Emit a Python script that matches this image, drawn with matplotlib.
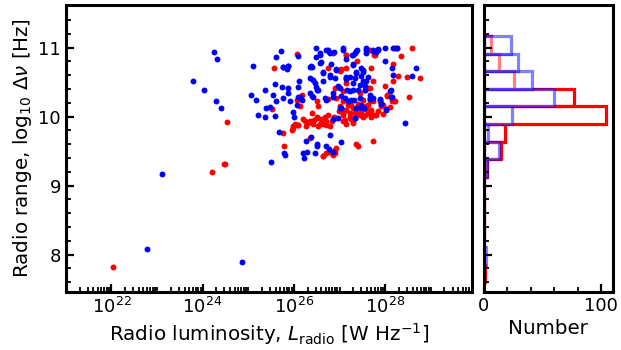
import numpy as np
import matplotlib
matplotlib.use("Agg")
import matplotlib.pyplot as plt
from matplotlib.ticker import FixedLocator, MultipleLocator, LogLocator, NullFormatter

# log10 L_radio and log10 dnu
blue_logL = [24.25, 24.32, 23.79, 24.02, 24.30, 24.41, 23.10, 22.77, 24.87,
             25.11, 25.05, 25.16, 25.71, 25.60, 25.36, 25.38, 25.21, 25.36, 25.58,
             25.58, 25.73, 25.54, 25.60, 25.47, 25.75, 25.87, 25.84, 25.87, 25.87,
             25.75, 25.91, 25.98, 26.00, 25.68, 25.78, 25.80, 25.49, 26.11, 26.09,
             26.13, 26.17, 26.07, 26.26, 26.28, 26.20, 26.22, 26.48, 26.35, 26.39,
             26.48, 26.57, 26.59, 26.41, 26.48, 26.35, 26.42, 26.53, 26.64, 26.71,
             26.82, 26.79, 26.64, 26.79, 26.92, 26.90, 26.97, 26.86, 26.71, 26.50,
             26.46, 26.51, 26.79, 26.71, 26.77, 26.85, 27.03, 26.85, 26.97, 27.08,
             27.15, 27.17, 27.12, 27.04, 27.27, 27.34, 27.39, 27.30, 27.23, 27.34,
             27.29, 27.41, 27.31, 27.37, 27.48, 27.52, 27.52, 27.56, 27.48, 27.52,
             27.34, 27.58, 27.59, 27.74, 27.85, 27.81, 27.63, 27.66, 27.74, 27.99,
             28.18, 28.25, 27.99, 28.16, 28.18, 28.13, 28.13, 27.92, 28.01, 28.58,
             28.67, 28.44, 26.37, 27.01,
             27.04, 27.19, 27.26, 27.37, 27.48, 27.53, 27.34, 27.66, 27.92, 28.02, 28.14,
             25.76, 25.86, 26.09, 26.57, 26.75, 26.88, 27.08, 26.37, 26.57, 26.64,
             26.79, 26.35, 26.46, 26.93, 26.09, 26.50, 26.39, 26.68, 26.86, 27.01, 27.15,
             27.30, 27.37, 27.59, 27.74, 27.85, 28.21, 27.15, 27.30, 27.37, 27.52,
             27.48, 27.59, 27.45, 27.30, 27.15, 27.23, 27.55, 27.66, 28.10, 27.88,
             27.45, 27.04]
blue_logdnu = [10.94, 10.84, 10.51, 10.38, 10.23, 10.13, 9.17, 8.08, 7.89,
               10.74, 10.31, 10.24, 10.95, 10.86, 10.38, 10.12, 10.02, 10.00, 10.01,
               10.48, 10.43, 10.31, 10.22, 10.14, 10.72, 10.74, 10.69, 10.41, 10.34,
               10.27, 10.22, 10.07, 10.00, 9.78, 9.47, 9.44, 9.35, 10.51, 10.43,
               10.29, 10.24, 10.17, 9.65, 9.49, 9.48, 9.40, 10.99, 10.72, 10.72,
               10.86, 10.92, 10.79, 10.53, 10.43, 10.35, 10.29, 10.39, 10.51, 10.97,
               10.77, 10.92, 10.65, 10.58, 10.69, 10.56, 10.44, 10.29, 10.24, 9.57,
               9.47, 9.61, 9.73, 9.57, 9.53, 9.49, 9.64, 9.97, 9.98, 10.99,
               10.58, 10.39, 10.27, 10.12, 10.89, 10.92, 10.96, 10.76, 10.58, 10.56,
               10.39, 10.39, 10.24, 10.65, 10.70, 10.65, 10.51, 10.44, 10.17, 10.12,
               9.98, 10.97, 10.92, 10.97, 10.98, 10.94, 10.58, 10.26, 10.27, 10.99,
               10.99, 10.99, 10.81, 10.70, 10.60, 10.39, 10.29, 10.20, 10.11, 10.59,
               10.70, 9.91, 9.70, 10.12,
               10.12, 10.22, 10.24, 10.12, 10.14, 10.12, 9.98, 10.27, 10.19, 10.10, 10.29,
               10.72, 10.73, 10.88, 10.90, 10.96, 10.94, 10.97, 10.73, 10.78, 10.63,
               10.61, 10.56, 10.49, 10.68, 10.28, 10.39, 10.30, 10.27, 10.34, 10.42, 10.54,
               10.90, 10.95, 11.00, 10.95, 10.97, 11.00, 10.83, 10.75, 10.63, 10.68,
               10.59, 10.51, 10.46, 10.49, 10.56, 10.37, 10.39, 10.32, 10.37, 10.25,
               10.27, 10.30]

red_logL = [24.54, 24.47, 24.49, 24.21, 22.04, 26.06, 25.57, 25.52, 25.76, 25.79,
            25.96, 25.98, 26.09, 26.13, 26.24, 26.26, 26.35, 26.42, 26.50, 26.53,
            26.64, 26.68, 26.75, 26.71, 26.53, 26.64, 26.71, 26.85, 26.90, 26.92,
            26.77, 26.86, 26.75, 27.03, 27.15, 26.90, 27.01, 27.08, 27.12, 27.23,
            27.30, 27.19, 27.30, 27.37, 27.45, 27.41, 27.52, 27.59, 27.63, 27.70,
            27.77, 27.66, 27.56, 27.66, 27.70, 27.39, 27.36, 27.41, 27.74, 27.66,
            27.76, 27.88, 27.92, 27.99, 28.05, 28.18, 28.20, 28.29, 28.34, 28.47,
            28.53, 28.58, 28.76, 28.27, 26.06,
            25.98, 26.09, 26.35, 26.50, 26.57, 26.71, 26.79, 26.93, 27.08, 27.15,
            26.63, 26.79, 26.90,
            27.08, 27.15, 27.26, 27.34, 27.45, 27.55, 27.63, 27.70, 27.74, 27.81,
            27.08, 27.30, 27.52, 27.70, 27.88, 27.96, 28.14, 28.21, 28.10,
            27.14, 27.04, 26.17, 26.50, 26.75, 26.93, 27.08,
            27.15, 27.77, 28.18, 27.74, 27.63, 27.45, 27.15, 27.01, 28.03,
            26.20, 26.30, 26.44, 26.60, 26.84, 26.98, 27.22, 27.40, 27.58, 27.85,
            26.02, 26.40, 26.88, 27.26, 27.48, 27.95]
red_logdnu = [9.92, 9.32, 9.31, 9.20, 7.82, 10.91, 10.71, 10.11, 9.77, 9.57,
              9.81, 9.87, 9.88, 10.16, 9.93, 9.87, 9.69, 9.90, 9.99, 9.86,
              9.90, 10.00, 10.02, 9.88, 10.15, 9.43, 9.47, 9.45, 9.47, 9.54,
              10.94, 10.93, 10.70, 10.69, 10.89, 10.41, 10.15, 10.05, 9.95, 10.00,
              9.91, 10.17, 10.12, 10.07, 10.02, 10.19, 10.24, 10.15, 10.05, 10.07,
              10.02, 10.22, 10.39, 10.41, 10.70, 10.81, 9.61, 9.58, 9.65, 10.97,
              10.89, 10.24, 10.15, 10.45, 10.31, 10.77, 10.22, 10.59, 10.88, 10.58,
              10.29, 10.99, 10.56, 10.99, 10.24,
              9.83, 9.88, 9.93, 9.98, 9.90, 9.93, 9.86, 9.98, 10.02, 9.90,
              9.43, 9.49, 9.52,
              10.22, 10.10, 10.17, 10.05, 10.12, 10.02, 10.17, 10.10, 10.22, 10.02,
              9.93, 9.93, 10.00, 10.00, 10.22, 10.17, 10.22, 10.22, 10.14,
              10.70, 10.68, 10.32, 10.22, 10.25, 10.27, 10.37,
              10.89, 10.90, 10.51, 10.51, 10.42, 10.34, 10.49, 10.66, 10.30,
              9.96, 9.91, 9.95, 9.97, 9.94, 10.08, 10.06, 10.09, 10.11, 10.08,
              9.90, 10.05, 10.00, 9.97, 10.06, 10.04]

# histogram of log10 dnu (bin edges and counts per bin)
bin_edges = [7.60, 7.855, 8.11, 8.365, 8.62, 8.875, 9.13, 9.385, 9.64,
             9.895, 10.15, 10.405, 10.66, 10.915, 11.17]
red_counts = [1, 0, 0, 0, 0, 0, 3, 15, 18, 104, 77, 26, 13, 6]
blue_counts = [0, 2, 0, 0, 0, 0, 3, 13, 4, 24, 60, 41, 29, 23]

plt.rcParams['font.family'] = ['DejaVu Sans']
plt.rcParams['mathtext.fontset'] = 'dejavusans'

fig = plt.figure(figsize=(6.21, 3.5), dpi=100)
ax = fig.add_axes([0.106, 0.166, 0.654, 0.820])
axh = fig.add_axes([0.779, 0.166, 0.208, 0.820], sharey=ax)

ax.scatter(10**np.array(red_logL), red_logdnu, s=18, color='red', lw=0)
ax.scatter(10**np.array(blue_logL), blue_logdnu, s=18, color='blue', lw=0)
ax.set_xscale('log')
ax.set_xlim(1e21, 8e29)
ax.set_ylim(7.46, 11.62)
ax.xaxis.set_major_locator(FixedLocator([1e22, 1e24, 1e26, 1e28]))
ax.xaxis.set_minor_locator(LogLocator(base=10, subs=np.arange(1, 10), numticks=50))
ax.xaxis.set_minor_formatter(NullFormatter())
ax.yaxis.set_major_locator(MultipleLocator(1))
ax.yaxis.set_minor_locator(MultipleLocator(0.2))
ax.set_xlabel(r'Radio luminosity, $L_{\rm radio}$ [W Hz$^{-1}$]', fontsize=14.3, labelpad=3)
ax.set_ylabel(r'Radio range, $\log_{10}\,\Delta\nu$ [Hz]', fontsize=14.3, labelpad=3)

edges = np.array(bin_edges)
centers = (edges[:-1] + edges[1:]) / 2
bw = edges[1] - edges[0]
axh.barh(centers, red_counts, height=bw, fill=False, edgecolor='red', lw=2.3)
axh.barh(centers, blue_counts, height=bw, facecolor=(1, 1, 1, 0.5),
         edgecolor=(0, 0, 1, 0.5), lw=2.3)
axh.set_xlim(0, 110)
axh.xaxis.set_major_locator(FixedLocator([0, 100]))
axh.xaxis.set_minor_locator(MultipleLocator(20))
axh.set_xlabel('Number', fontsize=14.3, labelpad=3)
axh.tick_params(axis='y', labelleft=False)

for a in (ax, axh):
    for sp in a.spines.values():
        sp.set_linewidth(2.2)
    a.tick_params(which='major', direction='in', length=6, width=1.6, labelsize=13)
    a.tick_params(which='minor', direction='in', length=3.5, width=1.3)

fig.savefig('out.png', dpi=100)
